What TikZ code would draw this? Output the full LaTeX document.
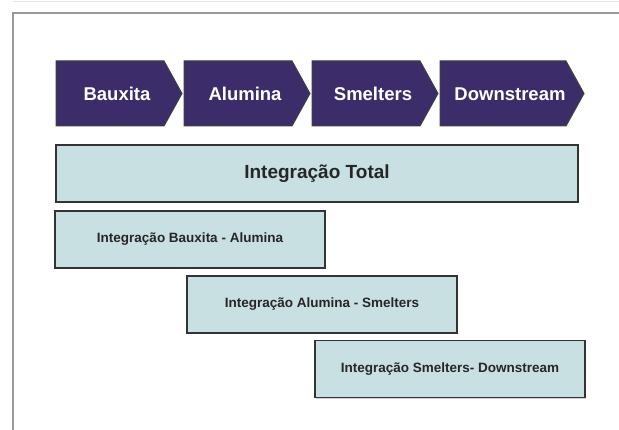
\documentclass[tikz,border=0pt]{standalone}
\usepackage{fontspec}
\setmainfont{Liberation Sans}
\usetikzlibrary{shadows}
\definecolor{chev}{HTML}{3C2D6A}
\definecolor{boxfill}{HTML}{C8E0E2}
\definecolor{frameline}{HTML}{9A9A9A}
\begin{document}
\begin{tikzpicture}[x=1pt,y=-1pt,
  chevshape/.style={fill=chev, draw=black!75, line width=1pt, line join=miter},
  chevtext/.style={text=white, font=\fontsize{18.5}{22}\selectfont\bfseries, inner sep=0pt},
  intbox/.style={draw=black!80, fill=boxfill, line width=1.4pt, rectangle, inner sep=0pt,
     drop shadow={shadow xshift=1.2pt, shadow yshift=-1.2pt, opacity=0.35}},
  smalltext/.style={font=\fontsize{13.5}{16}\selectfont\bfseries, text=black!85}
]
\useasboundingbox (0,0) rectangle (619,430);
\fill[white] (0,0) rectangle (619,430);
% frame lines
\coordinate (tl) at (13,1.5);
\coordinate (tr) at (619,1.5);
\draw[black!10, line width=1pt] (tl) -- (tr);
\coordinate (fb) at (13,430);
\coordinate (fc) at (13,13);
\coordinate (fr) at (619,13);
\draw[frameline, line width=1.6pt] (fb) -- (fc) -- (fr);
% chevrons
\newcommand{\chevron}[4]{%
  \draw[chevshape] (#1,61) -- (#2-18,61) -- (#2,93.5) -- (#2-18,126) -- (#1,126) -- cycle;
  \node[chevtext] (#3) at ({(#1+#2)/2-2},94) {#4};}
\chevron{56}{182}{bau}{Bauxita}
\chevron{184}{310}{alu}{Alumina}
\chevron{312}{438}{sme}{Smelters}
\chevron{440}{584}{dow}{Downstream}
% boxes
\node[intbox, minimum width=522pt, minimum height=57pt] (tot) at (317,173.5) {};
\node[font=\fontsize{19}{22}\selectfont\bfseries, text=black!85] (totl) at (tot) {Integração Total};
\node[intbox, minimum width=270pt, minimum height=57pt] (ba) at (190,239.5) {};
\node[smalltext] (bal) at (ba) {Integração Bauxita - Alumina};
\node[intbox, minimum width=270pt, minimum height=57pt] (as) at (322,304.5) {};
\node[smalltext] (asl) at (as) {Integração Alumina - Smelters};
\node[intbox, minimum width=270pt, minimum height=57pt] (sd) at (450,369) {};
\node[smalltext] (sdl) at (sd) {Integração Smelters- Downstream};
\end{tikzpicture}
\end{document}
